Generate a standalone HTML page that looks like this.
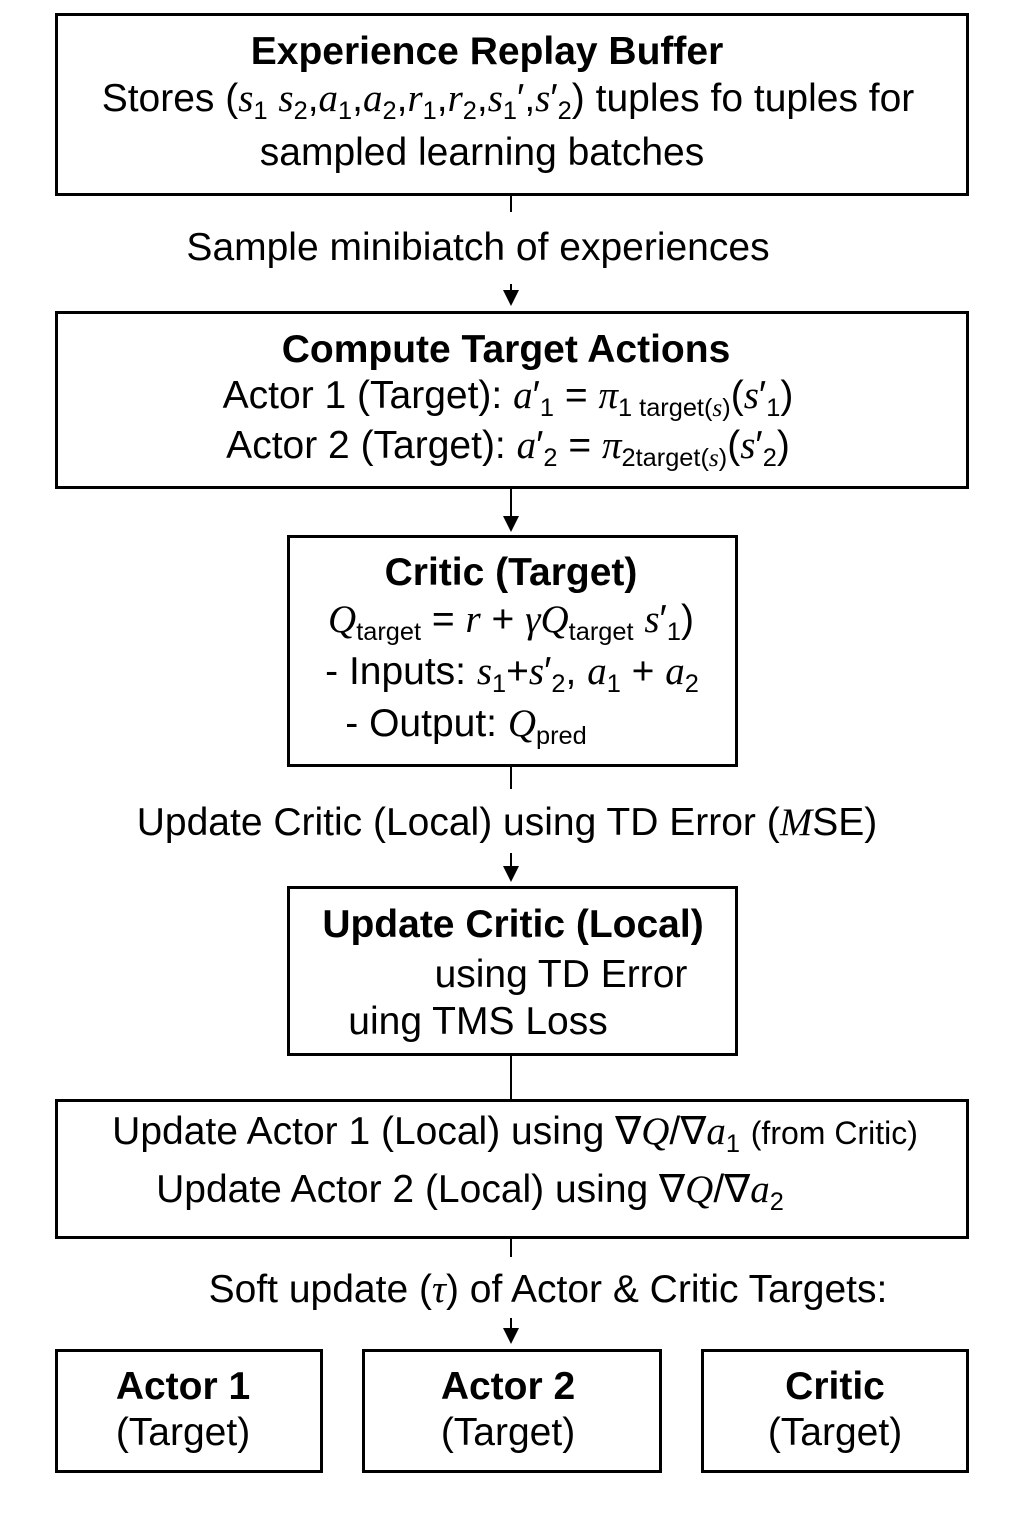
<!DOCTYPE html>
<html><head><meta charset="utf-8"><style>
body{margin:0;width:1024px;height:1536px;background:#fff;position:relative;font-family:"Liberation Sans",sans-serif;color:#000;overflow:hidden}
.b{position:absolute;border:3px solid #000;box-sizing:border-box}
.t{position:absolute;white-space:nowrap;font-size:39px;line-height:44px;transform:translate(-50%,-50%)}
.bold{font-weight:bold;font-size:39px}
i{font-family:"Liberation Serif",serif;font-style:italic}
sub{font-size:0.65em;vertical-align:-0.3em}
.v{position:absolute;left:510px;width:2px;background:#000}
.ar{position:absolute;left:503px;width:0;height:0;border-left:8px solid transparent;border-right:8px solid transparent;border-top:16px solid #000}
</style></head><body>
<div class="b" style="left:55px;top:13px;width:914px;height:183px"></div>
<div class="t bold" style="left:487px;top:52px">Experience Replay Buffer</div>
<div class="t" style="left:508px;top:105px">Stores (<i>s</i><sub>1</sub> <i>s</i><sub>2</sub>,<i>a</i><sub>1</sub>,<i>a</i><sub>2</sub>,<i>r</i><sub>1</sub>,<i>r</i><sub>2</sub>,<i>s</i><sub>1</sub>′,<i>s</i>′<sub>2</sub>) tuples fo tuples for</div>
<div class="t" style="left:482px;top:153px">sampled learning batches</div>
<div class="v" style="top:196px;height:16px"></div>
<div class="t" style="left:478px;top:248px">Sample minibiatch of experiences</div>
<div class="v" style="top:284px;height:10px"></div><div class="ar" style="top:290px"></div>

<div class="b" style="left:55px;top:311px;width:914px;height:178px"></div>
<div class="t bold" style="left:506px;top:350px">Compute Target Actions</div>
<div class="t" style="left:508px;top:402px">Actor 1 (Target): <i>a</i>′<sub>1</sub> = <i>π</i><sub>1 target(<i>s</i>)</sub>(<i>s</i>′<sub>1</sub>)</div>
<div class="t" style="left:508px;top:452px">Actor 2 (Target): <i>a</i>′<sub>2</sub> = <i>π</i><sub>2target(<i>s</i>)</sub>(<i>s</i>′<sub>2</sub>)</div>
<div class="v" style="top:489px;height:30px"></div><div class="ar" style="top:516px"></div>

<div class="b" style="left:287px;top:535px;width:451px;height:232px"></div>
<div class="t bold" style="left:511px;top:573px">Critic (Target)</div>
<div class="t" style="left:511px;top:626px"><i>Q</i><sub>target</sub> = <i>r</i> + <i>γQ</i><sub>target</sub> <i>s</i>′<sub>1</sub>)</div>
<div class="t" style="left:512px;top:678px">- Inputs: <i>s</i><sub>1</sub>+<i>s</i>′<sub>2</sub>, <i>a</i><sub>1</sub> + <i>a</i><sub>2</sub></div>
<div class="t" style="left:466px;top:730px">- Output: <i>Q</i><sub>pred</sub></div>
<div class="v" style="top:767px;height:22px"></div>
<div class="t" style="left:507px;top:823px">Update Critic (Local) using TD Error (<i>M</i>SE)</div>
<div class="v" style="top:853px;height:16px"></div><div class="ar" style="top:866px"></div>

<div class="b" style="left:287px;top:886px;width:451px;height:170px"></div>
<div class="t bold" style="left:513px;top:925px">Update Critic (Local)</div>
<div class="t" style="left:561px;top:975px">using TD Error</div>
<div class="t" style="left:478px;top:1022px">uing TMS Loss</div>
<div class="v" style="top:1056px;height:44px"></div>

<div class="b" style="left:55px;top:1099px;width:914px;height:140px"></div>
<div class="t" style="left:515px;top:1138px">Update Actor 1 (Local) using ∇<i>Q</i>/∇<i>a</i><sub>1</sub> <span style="font-size:32px">(from Critic)</span></div>
<div class="t" style="left:470px;top:1196px">Update Actor 2 (Local) using ∇<i>Q</i>/∇<i>a</i><sub>2</sub></div>
<div class="v" style="top:1239px;height:18px"></div>
<div class="t" style="left:548px;top:1290px">Soft update (<i>τ</i>) of Actor &amp; Critic Targets:</div>
<div class="v" style="top:1318px;height:12px"></div><div class="ar" style="top:1328px"></div>

<div class="b" style="left:55px;top:1349px;width:268px;height:124px"></div>
<div class="b" style="left:362px;top:1349px;width:300px;height:124px"></div>
<div class="b" style="left:701px;top:1349px;width:268px;height:124px"></div>
<div class="t bold" style="left:183px;top:1387px">Actor 1</div>
<div class="t" style="left:183px;top:1433px">(Target)</div>
<div class="t bold" style="left:508px;top:1387px">Actor 2</div>
<div class="t" style="left:508px;top:1433px">(Target)</div>
<div class="t bold" style="left:835px;top:1387px">Critic</div>
<div class="t" style="left:835px;top:1433px">(Target)</div>
</body></html>
